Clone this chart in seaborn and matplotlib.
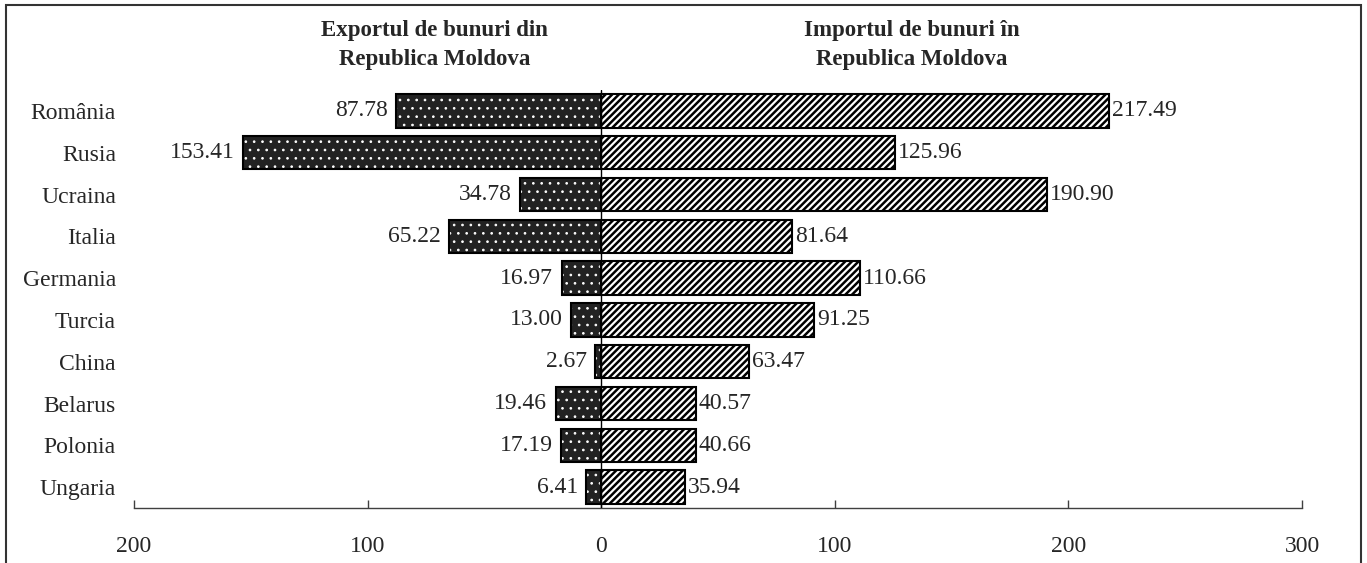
import numpy as np
import pandas as pd
import matplotlib
matplotlib.use("Agg")
import matplotlib.pyplot as plt
import seaborn as sns
from matplotlib.patches import Rectangle

# data
countries = ["România", "Rusia", "Ucraina", "Italia", "Germania",
             "Turcia", "China", "Belarus", "Polonia", "Ungaria"]
export_vals = [87.78, 153.41, 34.78, 65.22, 16.97, 13.00, 2.67, 19.46, 17.19, 6.41]
import_vals = [217.49, 125.96, 190.90, 81.64, 110.66, 91.25, 63.47, 40.57, 40.66, 35.94]
tick_vals = [-200, -100, 0, 100, 200, 300]
tick_labels = ["200", "100", "0", "100", "200", "300"]

sns.set_theme(style="white")
plt.rcParams["font.family"] = ["Liberation Serif", "DejaVu Serif"]

df = pd.DataFrame({
    "country": countries,
    "export": [-v for v in export_vals],
    "import": import_vals,
})

fs = 17

fig = plt.figure(figsize=(13.67, 5.63), dpi=100)
ax = fig.add_axes([0.098, 0.0977, 0.8545, 0.7423])

# export: dark bars with small white dots
plt.rcParams["hatch.linewidth"] = 0.7
sns.barplot(data=df, x="export", y="country", orient="h", ax=ax,
            color="#222222", saturation=1, width=0.8)
exp_bars = list(ax.patches)
for p in exp_bars:
    p.set_facecolor("#222222")
    p.set_edgecolor("white")
    p.set_hatch("..")
    p.set_linewidth(0)

# import: white bars with dense diagonal stripes
plt.rcParams["hatch.linewidth"] = 1.8
sns.barplot(data=df, x="import", y="country", orient="h", ax=ax,
            color="white", saturation=1, width=0.8)
imp_bars = [p for p in ax.patches if p not in exp_bars]
for p in imp_bars:
    p.set_facecolor("white")
    p.set_edgecolor("black")
    p.set_hatch("/////")
    p.set_linewidth(1.5)

# black outline for the export bars
sns.barplot(data=df, x="export", y="country", orient="h", ax=ax,
            fill=False, color="black", linewidth=1.5, width=0.8)

ax.bar_label(ax.containers[0], labels=[f"{v:.2f}" for v in export_vals],
             padding=6, fontsize=fs)
ax.bar_label(ax.containers[1], labels=[f"{v:.2f}" for v in import_vals],
             padding=2, fontsize=fs)

ax.axvline(0, color="black", lw=1, zorder=5)

ax.set_xlim(-200, 300)
ax.set_ylim(9.5, -0.5)
ax.set_xticks(tick_vals)
ax.set_xticklabels(tick_labels, fontsize=fs)
ax.set_xlabel("")
ax.set_ylabel("")
ax.tick_params(axis="x", direction="in", length=6, width=1, color="#404040",
               pad=20, bottom=True)
ax.tick_params(axis="y", length=0, pad=13, labelsize=fs)
for s in ["top", "left", "right"]:
    ax.spines[s].set_visible(False)
ax.spines["bottom"].set_color("#404040")
ax.spines["bottom"].set_linewidth(1)

fig.text(0.318, 0.92, "Exportul de bunuri din\nRepublica Moldova",
         ha="center", va="center", fontsize=16.5, fontweight="bold", linespacing=1.45)
fig.text(0.667, 0.92, "Importul de bunuri în\nRepublica Moldova",
         ha="center", va="center", fontsize=16.5, fontweight="bold", linespacing=1.45)

# frame around the chart area
fig.patches.append(Rectangle((6 / 1367, -0.02), 1355 / 1367, 1.011,
                             transform=fig.transFigure, fill=False,
                             edgecolor="#333333", lw=1.5))

fig.savefig("out.png", dpi=100)
